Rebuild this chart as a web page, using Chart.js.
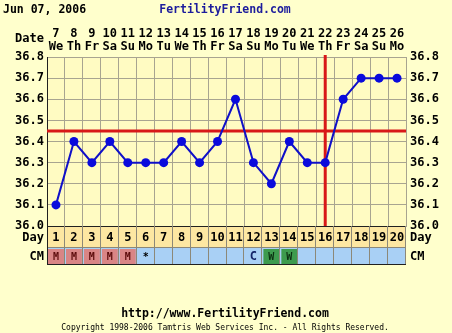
<!DOCTYPE html>
<html>
<head>
<meta charset="utf-8">
<script src="https://cdn.jsdelivr.net/npm/chart.js@4/dist/chart.umd.min.js"></script>
<style>
html,body{margin:0;padding:0;background:#FFFFCC;}
canvas{display:block;}
</style>
</head>
<body>
<canvas id="c" width="452" height="333"></canvas>
<script>
const chartDate = "Jun 07, 2006";
const siteName = "FertilityFriend.com";
const dates = ["7","8","9","10","11","12","13","14","15","16","17","18","19","20","21","22","23","24","25","26"];
const weekdays = ["We","Th","Fr","Sa","Su","Mo","Tu","We","Th","Fr","Sa","Su","Mo","Tu","We","Th","Fr","Sa","Su","Mo"];
const cycleDays = ["1","2","3","4","5","6","7","8","9","10","11","12","13","14","15","16","17","18","19","20"];
const temps = [36.1,36.4,36.3,36.4,36.3,36.3,36.3,36.4,36.3,36.4,36.6,36.3,36.2,36.4,36.3,36.3,36.6,36.7,36.7,36.7];
const cervicalMucus = ["M","M","M","M","M","*","","","","","","C","W","W","","","","","",""];
const yTicks = [36.0,36.1,36.2,36.3,36.4,36.5,36.6,36.7,36.8];
const coverline = 36.45;
const ovulationDay = "16";

const FONT = "'DejaVu Sans Mono', monospace";
const W = 452, H = 333, PAD_TOP = 20, TOP_AXIS_H = 37, BOTTOM_AXIS_H = 107, LEFT_W = 47, RIGHT_W = 46;

const decor = {
  id: 'decor',
  beforeDraw(chart) {
    const ctx = chart.ctx, a = chart.chartArea;
    ctx.save();
    ctx.fillStyle = '#FFFFCC';
    ctx.fillRect(0, 0, W, H);
    ctx.fillStyle = '#FFFBC2';
    ctx.fillRect(a.left, a.top, a.right - a.left, a.bottom - a.top);
    // day row and CM row backgrounds
    ctx.fillStyle = '#FDE7A2';
    ctx.fillRect(a.left, a.bottom, a.right - a.left, 21);
    ctx.fillStyle = '#A9D0F5';
    ctx.fillRect(a.left, a.bottom + 22, a.right - a.left, 16);
    ctx.restore();
  },
  beforeDatasetsDraw(chart) {
    const ctx = chart.ctx, a = chart.chartArea;
    const x = chart.scales.x, y = chart.scales.y;
    ctx.save();
    ctx.strokeStyle = '#D81818';
    ctx.lineWidth = 3;
    const cy = y.getPixelForValue(coverline);
    ctx.beginPath(); ctx.moveTo(a.left, cy); ctx.lineTo(a.right, cy); ctx.stroke();
    const ox = x.getPixelForValue(cycleDays.indexOf(ovulationDay));
    ctx.beginPath(); ctx.moveTo(ox, a.top - 2); ctx.lineTo(ox, a.bottom); ctx.stroke();
    ctx.restore();
  },
  afterDraw(chart) {
    const ctx = chart.ctx, a = chart.chartArea;
    const x = chart.scales.x;
    const colW = (a.right - a.left) / cycleDays.length;
    ctx.save();
    // CM cells
    cervicalMucus.forEach((m, i) => {
      const cx = x.getPixelForValue(i);
      const l = cx - colW / 2;
      if (m === 'M') { ctx.fillStyle = '#D98585'; ctx.fillRect(l + 1, a.bottom + 23, colW - 2, 15); }
      if (m === 'W') { ctx.fillStyle = '#3D9B4E'; ctx.fillRect(l + 1, a.bottom + 23, colW - 2, 15); }
      if (m) {
        ctx.fillStyle = m === 'M' ? '#5A0A0A' : m === 'W' ? '#0B3012' : m === 'C' ? '#142468' : '#000';
        ctx.font = 'bold ' + (m === 'C' ? 12 : 10) + 'px ' + FONT;
        ctx.textAlign = 'center'; ctx.textBaseline = 'middle';
        ctx.fillText(m, cx, a.bottom + 31);
      }
    });
    // row borders
    ctx.strokeStyle = '#8C8878';
    ctx.lineWidth = 1;
    for (let i = 1; i < cycleDays.length; i++) {
      const gx = Math.round(a.left + i * colW) - 0.5;
      ctx.beginPath(); ctx.moveTo(gx, a.bottom); ctx.lineTo(gx, a.bottom + 38); ctx.stroke();
    }
    ctx.beginPath(); ctx.moveTo(a.left, a.bottom + 21.5); ctx.lineTo(a.right, a.bottom + 21.5); ctx.stroke();
    ctx.beginPath(); ctx.moveTo(a.right - 0.5, a.bottom); ctx.lineTo(a.right - 0.5, a.bottom + 38); ctx.stroke();
    ctx.strokeStyle = '#202020';
    ctx.beginPath(); ctx.moveTo(a.left, a.bottom + 38.5); ctx.lineTo(a.right, a.bottom + 38.5); ctx.stroke();
    ctx.beginPath(); ctx.moveTo(a.left + 0.5, a.bottom); ctx.lineTo(a.left + 0.5, a.bottom + 38); ctx.stroke();

    // texts
    ctx.textBaseline = 'middle';
    ctx.font = 'bold 11.5px ' + FONT;
    ctx.fillStyle = '#000';
    ctx.textAlign = 'left';
    ctx.fillText(chartDate, 3, 10);
    ctx.fillStyle = '#1C1C9C';
    ctx.textAlign = 'center';
    ctx.fillText(siteName, 225, 10);
    ctx.fillStyle = '#000';
    ctx.font = 'bold 12px ' + FONT;
    ctx.textAlign = 'right';
    ctx.fillText('Date', 44, 39);
    ctx.fillText('Day', 44, a.bottom + 11.5);
    ctx.fillText('CM', 44, a.bottom + 30.5);
    ctx.textAlign = 'left';
    ctx.fillText('Day', a.right + 4, a.bottom + 11.5);
    ctx.fillText('CM', a.right + 4, a.bottom + 30.5);
    ctx.textAlign = 'center';
    ctx.font = 'bold 11.5px ' + FONT;
    ctx.fillText('http://www.' + siteName, 225, 314);
    ctx.font = '8px ' + FONT;
    ctx.fillText('Copyright 1998-2006 Tamtris Web Services Inc. - All Rights Reserved.', 225, 328);
    ctx.restore();
  }
};

const tickFont = { family: FONT, size: 12, weight: 'bold', lineHeight: '13px' };

new Chart(document.getElementById('c'), {
  type: 'line',
  data: {
    labels: cycleDays,
    datasets: [{
      data: temps,
      borderColor: '#1010C8',
      borderWidth: 2,
      pointRadius: 4.5,
      pointBackgroundColor: '#0A0ADC',
      pointBorderColor: '#0A0ADC',
      pointBorderWidth: 0,
      tension: 0,
      xAxisID: 'x',
      yAxisID: 'y'
    }]
  },
  options: {
    responsive: false,
    animation: false,
    devicePixelRatio: 1,
    layout: { padding: { top: PAD_TOP, left: 0, right: 0, bottom: 0 } },
    plugins: { legend: { display: false }, tooltip: { enabled: false } },
    scales: {
      x: {
        type: 'category',
        position: 'bottom',
        offset: true,
        afterFit: s => { s.height = BOTTOM_AXIS_H; },
        grid: { offset: true, color: '#A8A490', drawTicks: false, lineWidth: 1 },
        border: { color: '#202020', width: 1 },
        ticks: { color: '#000', font: tickFont, padding: 5, maxRotation: 0, autoSkip: false }
      },
      xTop: {
        type: 'category',
        position: 'top',
        offset: true,
        labels: dates.map((d, i) => [d, weekdays[i]]),
        afterFit: s => { s.height = TOP_AXIS_H; },
        grid: { display: false, drawTicks: false },
        border: { display: false },
        ticks: { color: '#000', font: tickFont, padding: 4, maxRotation: 0, autoSkip: false }
      },
      y: {
        position: 'left',
        min: 36.0, max: 36.8,
        afterFit: s => { s.width = LEFT_W; },
        afterBuildTicks: s => { s.ticks = yTicks.map(v => ({ value: v })); },
        grid: { color: '#A8A490', drawTicks: false },
        border: { color: '#202020', width: 1 },
        ticks: { color: '#000', font: tickFont, padding: 3, callback: v => Number(v).toFixed(1) }
      },
      y2: {
        position: 'right',
        min: 36.0, max: 36.8,
        afterFit: s => { s.width = RIGHT_W; },
        afterBuildTicks: s => { s.ticks = yTicks.map(v => ({ value: v })); },
        grid: { drawOnChartArea: false, drawTicks: false },
        border: { color: '#A8A490', width: 1 },
        ticks: { color: '#000', font: tickFont, padding: 4, callback: v => Number(v).toFixed(1) }
      }
    }
  },
  plugins: [decor]
});
</script>
</body>
</html>
